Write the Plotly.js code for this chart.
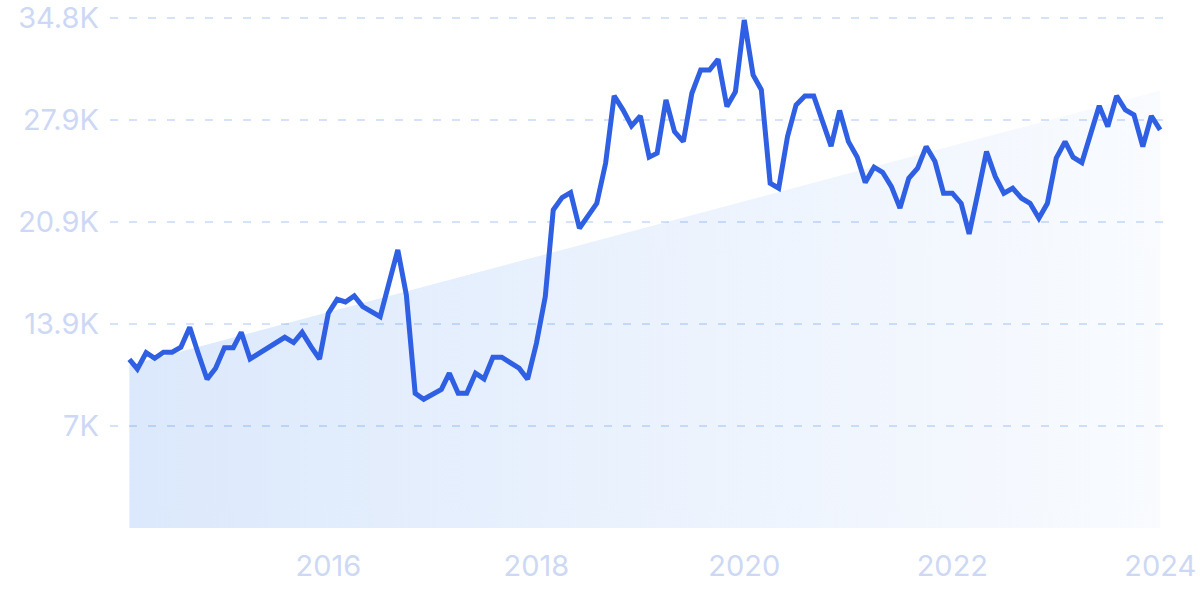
<!DOCTYPE html>
<html>
<head>
<meta charset="utf-8">
<script src="https://cdn.plot.ly/plotly-3.0.1.min.js"></script>
<style>
  html, body { margin: 0; padding: 0; background: #ffffff; }
  #chart { width: 1200px; height: 600px; }
</style>
</head>
<body>
<div id="chart"></div>
<script>
// Monthly values (thousands), Feb 2014 – Jan 2024
const startMonth = '2014-02-01';
const values = [
  11.5, 10.85, 11.96, 11.58, 11.99, 11.99, 12.33, 13.70, 11.9, 10.15,
  10.9, 12.30, 12.30, 13.35, 11.53, 11.9, 12.25, 12.65, 13.01, 12.65,
  13.35, 12.37, 11.53, 14.65, 15.6, 15.42, 15.83, 15.10, 14.76, 14.42,
  16.7, 18.97, 15.9, 9.19, 8.78, 9.12, 9.46, 10.56, 9.19, 9.19,
  10.56, 10.17, 11.65, 11.65, 11.24, 10.9, 10.15, 12.6, 15.78, 21.7,
  22.54, 22.88, 20.45, 21.24, 22.15, 24.89, 29.48, 28.53, 27.43, 28.11,
  25.30, 25.57, 29.21, 27.04, 26.36, 29.66, 31.25, 31.25, 31.98, 28.75,
  29.77, 34.66, 30.91, 29.9, 23.52, 23.18, 26.70, 28.86, 29.48, 29.48,
  27.8, 26.05, 28.48, 26.36, 25.30, 23.57, 24.62, 24.27, 23.29, 21.82,
  23.86, 24.55, 26.02, 25.0, 22.84, 22.84, 22.15, 20.06, 22.88, 25.68,
  23.97, 22.84, 23.18, 22.5, 22.15, 21.13, 22.15, 25.23, 26.36, 25.3,
  24.93, 26.93, 28.8, 27.38, 29.48, 28.52, 28.18, 26.02, 28.11, 27.16
];
// Trend line endpoints (thousands)
const trendValues = [11.1, 29.85];

const yTickVals = [6.96, 13.92, 20.88, 27.84, 34.8];
const yTickText = ['7K', '13.9K', '20.9K', '27.9K', '34.8K'];
const xTickVals = ['2016-01-01', '2018-01-01', '2020-01-01', '2022-01-01', '2024-01-01'];
const xTickText = ['2016', '2018', '2020', '2022', '2024'];

// build monthly dates
function monthDates(start, n) {
  const [y0, m0] = start.split('-').map(Number);
  const out = [];
  for (let i = 0; i < n; i++) {
    const t = (m0 - 1) + i;
    const y = y0 + Math.floor(t / 12);
    const m = (t % 12) + 1;
    out.push(y + '-' + String(m).padStart(2, '0') + '-01');
  }
  return out;
}
const dates = monthDates(startMonth, values.length);
const trendDates = [dates[0], dates[dates.length - 1]];

const labelColor = '#cdd8f4';
const font = 'Inter, "Noto Sans", sans-serif';

const traces = [
  {
    x: trendDates,
    y: trendValues,
    type: 'scatter',
    mode: 'lines',
    line: { width: 0, color: 'rgba(0,0,0,0)' },
    fill: 'tozeroy',
    fillgradient: {
      type: 'horizontal',
      colorscale: [
        [0, 'rgba(40,120,235,0.165)'],
        [0.5, 'rgba(40,120,235,0.095)'],
        [1, 'rgba(40,120,235,0.03)']
      ]
    },
    hoverinfo: 'skip',
    showlegend: false
  },
  {
    x: dates,
    y: values,
    type: 'scatter',
    mode: 'lines',
    line: { color: '#2f5fe3', width: 5 },
    showlegend: false
  }
];

const layout = {
  width: 1200,
  height: 600,
  margin: { l: 110, r: 35, t: 16, b: 72 },
  paper_bgcolor: '#ffffff',
  plot_bgcolor: 'rgba(0,0,0,0)',
  showlegend: false,
  xaxis: {
    type: 'date',
    range: ['2013-11-25', '2024-01-18'],
    tickvals: xTickVals,
    ticktext: xTickText,
    showgrid: false,
    zeroline: false,
    showline: false,
    ticks: 'outside',
    ticklen: 12,
    tickcolor: 'rgba(0,0,0,0)',
    tickfont: { family: font, size: 29, color: labelColor }
  },
  yaxis: {
    range: [0, 34.93],
    tickvals: yTickVals,
    ticktext: yTickText,
    showgrid: true,
    gridcolor: '#d5e2fa',
    gridwidth: 1.5,
    griddash: '8px,11px',
    zeroline: false,
    showline: false,
    ticks: '',
    ticklabelstandoff: 10,
    tickfont: { family: font, size: 29, color: labelColor }
  }
};

Plotly.newPlot('chart', traces, layout, { displayModeBar: false, staticPlot: true });
</script>
</body>
</html>
